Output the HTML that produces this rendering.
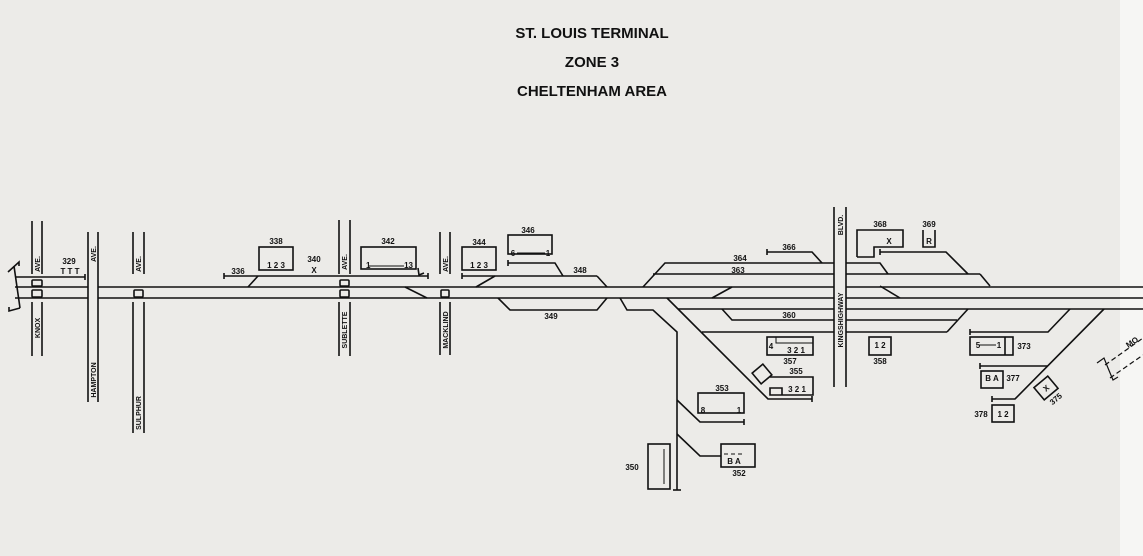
<!DOCTYPE html>
<html><head><meta charset="utf-8"><style>
html,body{margin:0;padding:0;background:#ecebe8;}
svg{display:block}
text{font-family:"Liberation Sans",sans-serif;font-weight:bold;fill:#111}
</style></head><body>
<svg width="1143" height="556" viewBox="0 0 1143 556" xmlns="http://www.w3.org/2000/svg">
<rect width="1143" height="556" fill="#ecebe8"/>
<rect x="1120" y="0" width="23" height="556" fill="#f6f6f4"/>
<g text-anchor="middle" font-size="15">
<text x="592" y="38">ST. LOUIS TERMINAL</text>
<text x="592" y="67">ZONE 3</text>
<text x="592" y="96">CHELTENHAM AREA</text>
</g>
<g stroke="#111" stroke-width="1.6" fill="none">
<line x1="15" y1="287" x2="1143" y2="287"/>
<line x1="15" y1="298" x2="1143" y2="298"/>
<line x1="835" y1="309" x2="1143" y2="309"/>
<polyline points="8,272 19,262 19,266"/>
<line x1="14" y1="266" x2="20" y2="308"/>
<polyline points="20,308 9,311 9,307"/>
<line x1="15" y1="277" x2="85" y2="277"/>
<line x1="85" y1="274" x2="85" y2="280"/>
<line x1="224" y1="276" x2="428" y2="276"/>
<line x1="224" y1="273" x2="224" y2="279"/>
<line x1="428" y1="273" x2="428" y2="279"/>
<line x1="248" y1="287" x2="258" y2="276"/>
<line x1="405" y1="287" x2="427" y2="298"/>
<path d="M418,268 L419,275 L424,273"/>
<line x1="462" y1="276" x2="597" y2="276"/>
<line x1="462" y1="273" x2="462" y2="279"/>
<line x1="476" y1="287" x2="495" y2="276"/>
<line x1="597" y1="276" x2="607" y2="287"/>
<polyline points="508,263 555,263 563,276"/>
<line x1="508" y1="260" x2="508" y2="266"/>
<polyline points="498,298 510,310 597,310 607,298"/>
<polyline points="643,287 665,263 880,263 888,274"/>
<line x1="653" y1="274" x2="980" y2="274"/>
<line x1="980" y1="274" x2="990" y2="286"/>
<polyline points="767,252 812,252 822,263"/>
<line x1="767" y1="249" x2="767" y2="255"/>
<line x1="712" y1="298" x2="732" y2="287"/>
<polyline points="880,252 946,252 968,274"/>
<line x1="880" y1="249" x2="880" y2="255"/>
<line x1="880" y1="286" x2="900" y2="298"/>
<polyline points="620,298 627,310 653,310 677,332 677,490"/>
<line x1="673" y1="490" x2="681" y2="490"/>
<polyline points="677,400 700,422 744,422"/>
<line x1="744" y1="419" x2="744" y2="425"/>
<polyline points="677,434 700,456 721,456"/>
<polyline points="667,298 768,399 812,399"/>
<line x1="812" y1="396" x2="812" y2="402"/>
<line x1="678" y1="309" x2="835" y2="309"/>
<polyline points="722,309 732,320 957,320"/>
<line x1="702" y1="332" x2="947" y2="332"/>
<line x1="947" y1="332" x2="968" y2="309"/>
<polyline points="970,332 1048,332 1070,309"/>
<line x1="970" y1="329" x2="970" y2="335"/>
<line x1="980" y1="366" x2="1048" y2="366"/>
<line x1="980" y1="363" x2="980" y2="369"/>
<polyline points="992,399 1015,399 1104,309"/>
<line x1="992" y1="396" x2="992" y2="402"/>
<rect x="259" y="247" width="34" height="23"/>
<rect x="361" y="247" width="55" height="22"/>
<line x1="369" y1="266" x2="404" y2="266" stroke-width="1"/>
<rect x="462" y="247" width="34" height="23"/>
<rect x="508" y="235" width="44" height="19"/>
<line x1="517" y1="253" x2="545" y2="253" stroke-width="1"/>
<rect x="767" y="337" width="46" height="18"/>
<polyline points="776,337 776,343 813,343" stroke-width="1"/>
<rect x="755" y="367" width="14" height="14" transform="rotate(-40 762 374)"/>
<polyline points="770,377 813,377 813,395 770,395 770,388 782,388 782,395"/>
<rect x="698" y="393" width="46" height="20"/>
<rect x="648" y="444" width="22" height="45"/>
<line x1="664" y1="449" x2="664" y2="484" stroke-width="1"/>
<rect x="721" y="444" width="34" height="23"/>
<line x1="724" y1="454" x2="744" y2="454" stroke-dasharray="4,3" stroke-width="1"/>
<rect x="869" y="337" width="22" height="18"/>
<rect x="970" y="337" width="43" height="18"/>
<line x1="1005" y1="337" x2="1005" y2="355"/>
<line x1="979" y1="345" x2="996" y2="345" stroke-width="1"/>
<rect x="981" y="371" width="22" height="17"/>
<rect x="992" y="405" width="22" height="17"/>
<rect x="1037" y="380" width="18" height="16" transform="rotate(-40 1046 388)"/>
<polyline points="857,257 857,230 903,230 903,247 874,247 874,257 857,257"/>
<polyline points="923,230 923,247 935,247 935,230"/>
<g stroke-dasharray="5,3" stroke-width="1.2">
<line x1="1105" y1="365" x2="1143" y2="338"/>
<line x1="1110" y1="378" x2="1143" y2="355"/>
</g>
<polyline points="1097,363 1104,358 1108,368 1113,380 1118,377" stroke-width="1.2"/>
</g>
<g fill="#ecebe8" stroke="none">
<rect x="32" y="221" width="10" height="53"/><rect x="32" y="302" width="10" height="54"/>
<rect x="88" y="232" width="10" height="170"/>
<rect x="133" y="232" width="11" height="42"/><rect x="133" y="302" width="11" height="131"/>
<rect x="339" y="220" width="11" height="54"/><rect x="339" y="302" width="11" height="54"/>
<rect x="440" y="232" width="10" height="42"/><rect x="440" y="302" width="10" height="53"/>
<rect x="834" y="207" width="12" height="180"/>
</g>
<g stroke="#111" stroke-width="1.6">
<line x1="32" y1="221" x2="32" y2="274"/><line x1="42" y1="221" x2="42" y2="274"/>
<line x1="32" y1="302" x2="32" y2="356"/><line x1="42" y1="302" x2="42" y2="356"/>
<line x1="88" y1="232" x2="88" y2="402"/><line x1="98" y1="232" x2="98" y2="402"/>
<line x1="133" y1="232" x2="133" y2="274"/><line x1="144" y1="232" x2="144" y2="274"/>
<line x1="133" y1="302" x2="133" y2="433"/><line x1="144" y1="302" x2="144" y2="433"/>
<line x1="339" y1="220" x2="339" y2="274"/><line x1="350" y1="220" x2="350" y2="274"/>
<line x1="339" y1="302" x2="339" y2="356"/><line x1="350" y1="302" x2="350" y2="356"/>
<line x1="440" y1="232" x2="440" y2="274"/><line x1="450" y1="232" x2="450" y2="274"/>
<line x1="440" y1="302" x2="440" y2="355"/><line x1="450" y1="302" x2="450" y2="355"/>
<line x1="834" y1="207" x2="834" y2="387"/><line x1="846" y1="207" x2="846" y2="387"/>
</g>
<g fill="#ecebe8" stroke="#111" stroke-width="1.6">
<rect x="32" y="280" width="10" height="6" rx="1"/><rect x="32" y="290" width="10" height="7" rx="1"/>
<rect x="134" y="290" width="9" height="7" rx="1"/>
<rect x="340" y="280" width="9" height="6" rx="1"/><rect x="340" y="290" width="9" height="7" rx="1"/>
<rect x="441" y="290" width="8" height="7" rx="1"/>
</g>
<g font-size="7" text-anchor="middle">
<text transform="translate(40,264) rotate(-90)">AVE.</text>
<text transform="translate(40,328) rotate(-90)">KNOX</text>
<text transform="translate(96,254) rotate(-90)">AVE.</text>
<text transform="translate(96,380) rotate(-90)">HAMPTON</text>
<text transform="translate(141,264) rotate(-90)">AVE.</text>
<text transform="translate(141,413) rotate(-90)">SULPHUR</text>
<text transform="translate(347,262) rotate(-90)">AVE.</text>
<text transform="translate(347,330) rotate(-90)">SUBLETTE</text>
<text transform="translate(448,264) rotate(-90)">AVE.</text>
<text transform="translate(448,330) rotate(-90)">MACKLIND</text>
<text transform="translate(843,225) rotate(-90)">BLVD.</text>
<text transform="translate(843,320) rotate(-90)">KINGSHIGHWAY</text>
</g>
<g font-size="8" text-anchor="middle">
<text x="69" y="264">329</text><text x="70" y="274">T T T</text>
<text x="276" y="244">338</text><text x="276" y="268">1 2 3</text>
<text x="238" y="274">336</text>
<text x="314" y="262">340</text><text x="314" y="273">X</text>
<text x="388" y="244">342</text>
<text x="366" y="268" text-anchor="start">1</text><text x="413" y="268" text-anchor="end">13</text>
<text x="479" y="245">344</text><text x="479" y="268">1 2 3</text>
<text x="528" y="233">346</text>
<text x="513" y="256">6</text><text x="548" y="256">1</text>
<text x="580" y="273">348</text>
<text x="551" y="319">349</text>
<text x="740" y="261">364</text><text x="738" y="273">363</text>
<text x="789" y="250">366</text>
<text x="789" y="318">360</text>
<text x="771" y="349">4</text><text x="796" y="353">3 2 1</text>
<text x="790" y="364">357</text>
<text x="796" y="374">355</text><text x="797" y="392">3 2 1</text>
<text x="722" y="391">353</text>
<text x="703" y="413">8</text><text x="739" y="413">1</text>
<text x="632" y="470">350</text>
<text x="734" y="464">B A</text><text x="739" y="476">352</text>
<text x="880" y="227">368</text><text x="889" y="244">X</text>
<text x="929" y="227">369</text><text x="929" y="244">R</text>
<text x="880" y="348">1 2</text><text x="880" y="364">358</text>
<text x="978" y="348">5</text><text x="999" y="348">1</text>
<text x="1024" y="349">373</text>
<text x="992" y="381">B A</text><text x="1013" y="381">377</text>
<text x="1003" y="417">1 2</text><text x="981" y="417">378</text>
<text x="1046" y="391" transform="rotate(-40 1046 388)">X</text>
<text x="1055" y="402" transform="rotate(-40 1055 398)">375</text>
<text x="1132" y="345" transform="rotate(-35 1132 342)">MO</text>
</g>
</svg>
</body></html>
